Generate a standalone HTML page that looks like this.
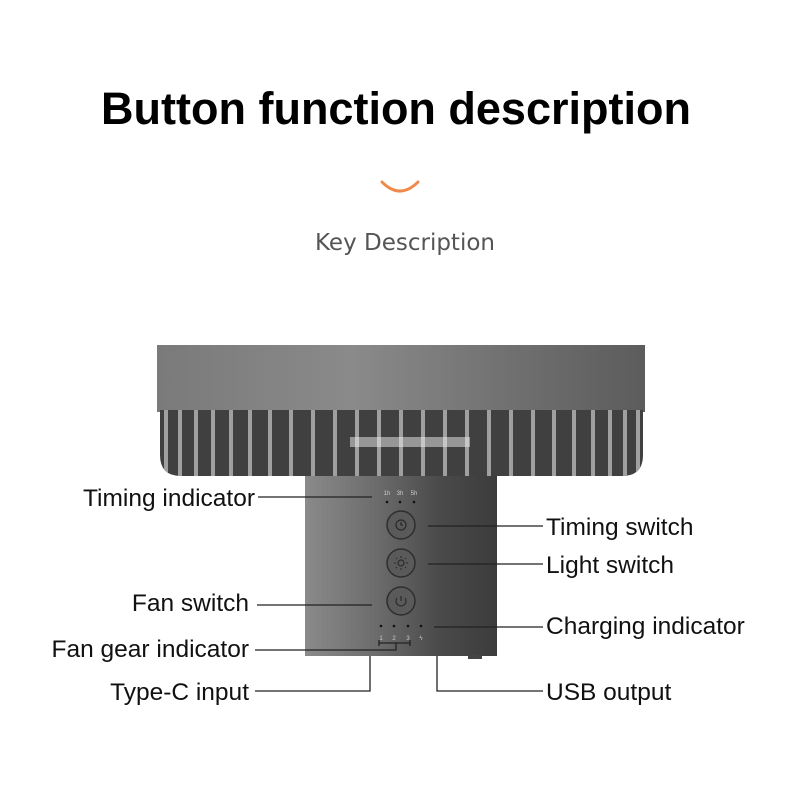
<!DOCTYPE html>
<html><head><meta charset="utf-8"><style>
html,body{margin:0;padding:0;background:#fff;width:800px;height:800px;overflow:hidden}
</style></head><body>
<svg width="800" height="800" viewBox="0 0 800 800" xmlns="http://www.w3.org/2000/svg">
<defs>
<linearGradient id="top" x1="0" x2="1" y1="0" y2="0">
<stop offset="0" stop-color="#7a7a7a"/><stop offset="0.4" stop-color="#8a8a8a"/><stop offset="0.75" stop-color="#6e6e6e"/><stop offset="1" stop-color="#5c5c5c"/></linearGradient>
<linearGradient id="body" x1="0" x2="1" y1="0" y2="0">
<stop offset="0" stop-color="#8a8a8a"/><stop offset="0.35" stop-color="#6e6e6e"/><stop offset="0.7" stop-color="#4a4a4a"/><stop offset="1" stop-color="#3c3c3c"/></linearGradient>
<clipPath id="gr"><path d="M160 410 H643 V455 Q643 476 622 476 H181 Q160 476 160 455 Z"/></clipPath>
</defs>
<text x="396" y="124" text-anchor="middle" font-family="Liberation Sans, sans-serif" font-weight="bold" font-size="45" fill="#000">Button function description</text>
<path d="M382 182 Q400 200 418 182" stroke="#f08a4b" stroke-width="3" fill="none" stroke-linecap="round"/>
<text x="405" y="250" text-anchor="middle" font-family="DejaVu Sans, sans-serif" font-size="23" fill="#555">Key Description</text>
<!-- fan head -->
<rect x="157" y="345" width="488" height="67" fill="url(#top)"/>
<g clip-path="url(#gr)">
<rect x="157" y="410" width="488" height="70" fill="#404040"/>
<g stroke="#a0a0a0" stroke-width="4">
<line x1="166" y1="410" x2="166" y2="480"/><line x1="180" y1="410" x2="180" y2="480"/><line x1="196" y1="410" x2="196" y2="480"/><line x1="213" y1="410" x2="213" y2="480"/><line x1="231" y1="410" x2="231" y2="480"/><line x1="250" y1="410" x2="250" y2="480"/><line x1="270" y1="410" x2="270" y2="480"/><line x1="291" y1="410" x2="291" y2="480"/><line x1="313" y1="410" x2="313" y2="480"/><line x1="335" y1="410" x2="335" y2="480"/><line x1="357" y1="410" x2="357" y2="480"/><line x1="379" y1="410" x2="379" y2="480"/><line x1="401" y1="410" x2="401" y2="480"/><line x1="423" y1="410" x2="423" y2="480"/><line x1="445" y1="410" x2="445" y2="480"/><line x1="467" y1="410" x2="467" y2="480"/><line x1="489" y1="410" x2="489" y2="480"/><line x1="511" y1="410" x2="511" y2="480"/><line x1="533" y1="410" x2="533" y2="480"/><line x1="554" y1="410" x2="554" y2="480"/><line x1="574" y1="410" x2="574" y2="480"/><line x1="593" y1="410" x2="593" y2="480"/><line x1="610" y1="410" x2="610" y2="480"/><line x1="625" y1="410" x2="625" y2="480"/><line x1="638" y1="410" x2="638" y2="480"/>
</g>
<rect x="350" y="437" width="120" height="10" fill="#eee" opacity="0.5"/>
</g>
<!-- body -->
<rect x="305" y="476" width="192" height="180" fill="url(#body)"/>
<rect x="468" y="655" width="14" height="4" fill="#444"/>
<g font-family="Liberation Sans, sans-serif" font-size="6" fill="#ccc" text-anchor="middle">
<text x="387" y="495">1h</text><text x="400" y="495">3h</text><text x="414" y="495">5h</text>
<text x="381" y="640">1</text><text x="394" y="640">2</text><text x="408" y="640">3</text><text x="421" y="640">ϟ</text>
</g>
<g fill="#111"><circle cx="387" cy="502" r="1.3"/><circle cx="400" cy="502" r="1.3"/><circle cx="414" cy="502" r="1.3"/>
<circle cx="381" cy="626" r="1.3"/><circle cx="394" cy="626" r="1.3"/><circle cx="408" cy="626" r="1.3"/><circle cx="421" cy="626" r="1.3"/></g>
<g fill="#5a5a5a" stroke="#2e2e2e" stroke-width="1.5">
<circle cx="401" cy="525" r="14"/><circle cx="401" cy="563" r="14"/><circle cx="401" cy="601" r="14"/></g>
<g stroke="#2a2a2a" fill="none" stroke-width="1.2">
<circle cx="401" cy="525" r="5"/><path d="M401 522 V525 H403"/>
<circle cx="401" cy="563" r="3"/>
<path d="M397 598 A5 5 0 1 0 405 598"/><line x1="401" y1="596" x2="401" y2="601"/>
</g>
<g stroke="#2a2a2a" stroke-width="1"><path d="M401 556v2M401 568v2M394 563h2M406 563h2M396 558l1 1M405 567l1 1M406 558l-1 1M396 568l1-1"/></g>
<!-- connectors -->
<g stroke="#222" stroke-width="1.3" fill="none">
<line x1="258" y1="497" x2="372" y2="497"/>
<line x1="428" y1="526" x2="543" y2="526"/>
<line x1="428" y1="564" x2="543" y2="564"/>
<line x1="257" y1="605" x2="372" y2="605"/>
<line x1="434" y1="627" x2="543" y2="627"/>
<path d="M379 640 V646 M379 643 H410 M410 640 V646 M396 643 V650 H255"/>
<path d="M370 656 V691 H255"/>
<path d="M437 656 V691 H543"/>
</g>
<g font-family="Liberation Sans, sans-serif" font-size="24.5" fill="#111">
<text x="255" y="506" text-anchor="end">Timing indicator</text>
<text x="249" y="611" text-anchor="end">Fan switch</text>
<text x="249" y="657" text-anchor="end">Fan gear indicator</text>
<text x="249" y="700" text-anchor="end">Type-C input</text>
<text x="546" y="535">Timing switch</text>
<text x="546" y="573">Light switch</text>
<text x="546" y="634">Charging indicator</text>
<text x="546" y="700">USB output</text>
</g>
</svg>
</body></html>
